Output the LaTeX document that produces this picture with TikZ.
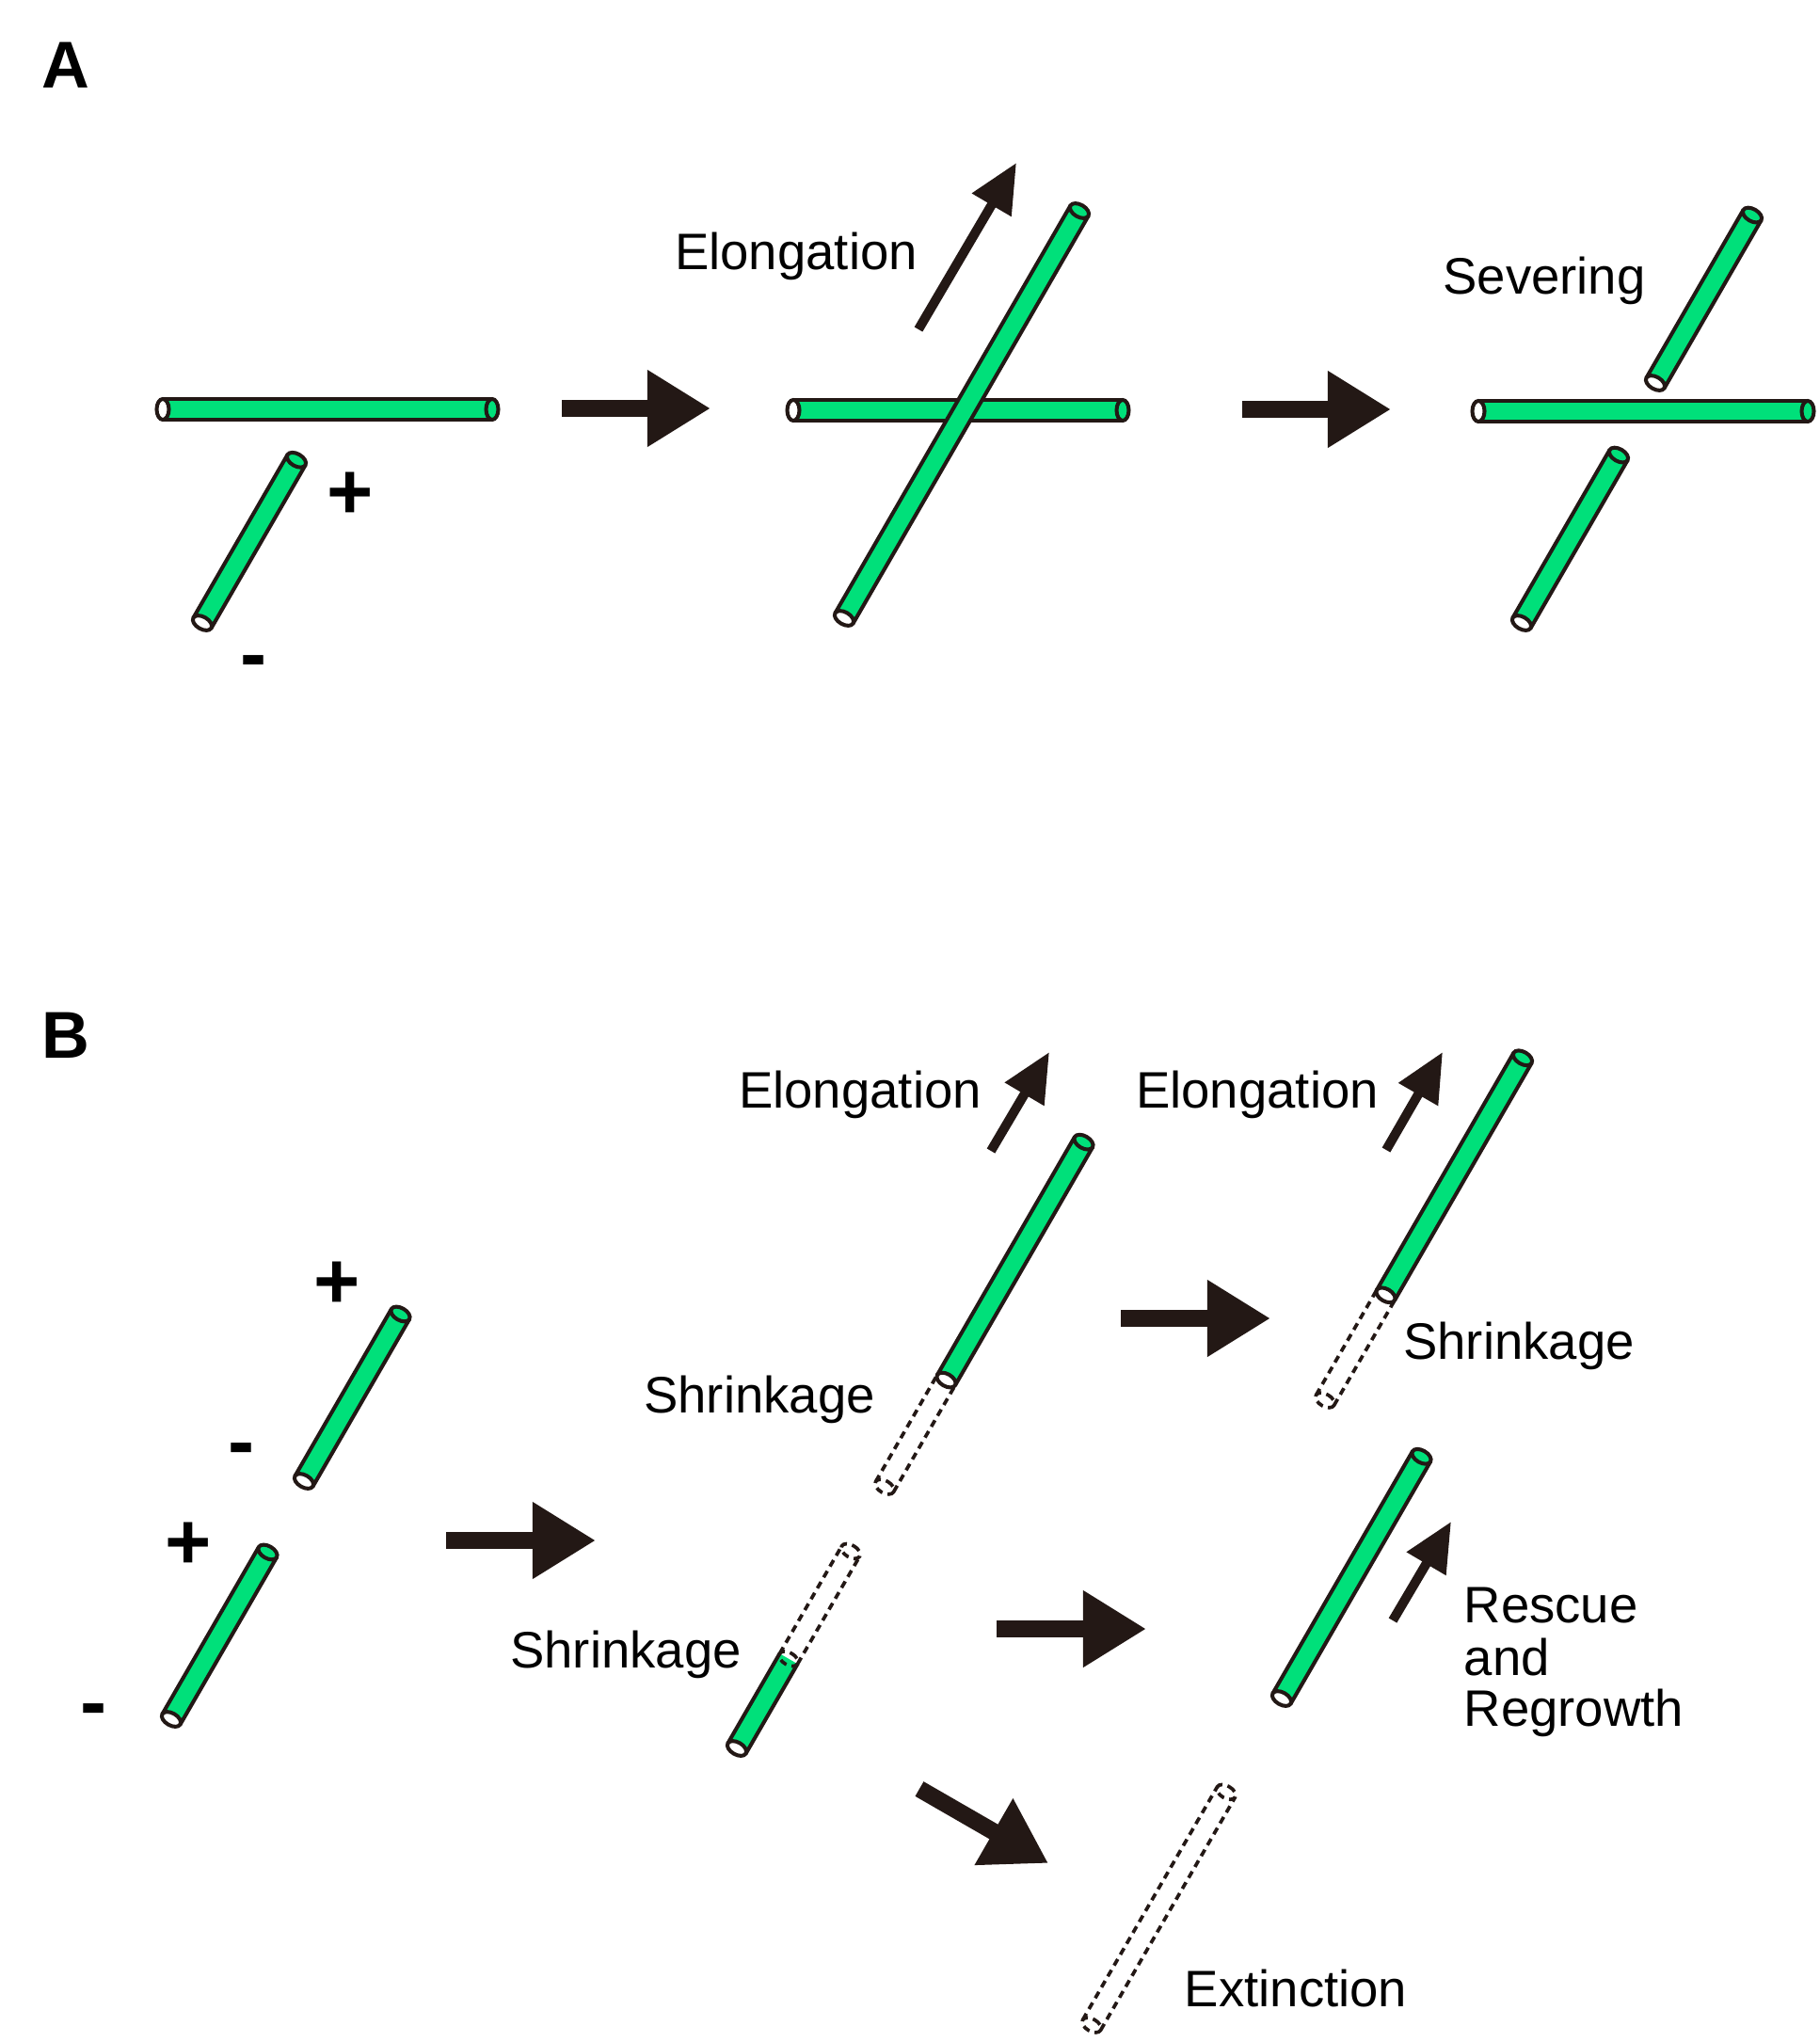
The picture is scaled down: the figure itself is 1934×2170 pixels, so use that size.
\documentclass[tikz,border=0pt]{standalone}
\usepackage{fontspec}
\setmainfont{Liberation Sans}
\usetikzlibrary{arrows.meta}
\definecolor{tubegreen}{RGB}{0,224,122}
\definecolor{ink}{RGB}{35,24,21}
\tikzset{
  tubeline/.style={draw=ink, line width=1.15pt},
  ghost/.style={draw=ink, line width=1.05pt, dash pattern=on 2.2pt off 1.6pt},
  bigarrow/.style={draw=ink, line width=0.18cm, -{Triangle[width=0.77cm,length=0.67cm]}},
  thinarrow/.style={draw=ink, line width=0.1cm, -{Triangle[width=0.46cm,length=0.52cm]}},
  lbl/.style={font=\fontsize{15.5pt}{18pt}\selectfont, inner sep=0, anchor=base, text=black},
  lblw/.style={lbl, anchor=base west},
  sign/.style={font=\fontsize{24pt}{28pt}\selectfont\bfseries, inner sep=0, text=black},
  panel/.style={font=\fontsize{20pt}{24pt}\selectfont\bfseries, inner sep=0, anchor=base west, text=black},
}
% full tube: x y angle length
\newcommand\mtube[4]{%
  \begin{scope}[shift={(#1,#2)}, rotate=#3]
    \fill[tubegreen] (0,-11) rectangle (#4,11);
    \draw[tubeline] (0,11) -- (#4,11) (0,-11) -- (#4,-11);
    \draw[tubeline, fill=tubegreen] (#4,0) ellipse [x radius=6.5, y radius=11];
    \draw[tubeline, fill=white] (0,0) ellipse [x radius=6.5, y radius=11];
  \end{scope}}
% dashed part at start: x y angle length dashedlength
\newcommand\ptube[5]{%
  \begin{scope}[shift={(#1,#2)}, rotate=#3]
    \draw[ghost] (0,11) -- (#5,11) (0,-11) -- (#5,-11) (0,0) ellipse [x radius=6.5, y radius=11];
    \fill[tubegreen] (#5,-11) rectangle (#4,11);
    \draw[tubeline] (#5,11) -- (#4,11) (#5,-11) -- (#4,-11);
    \draw[tubeline, fill=tubegreen] (#4,0) ellipse [x radius=6.5, y radius=11];
    \draw[tubeline, fill=white] (#5,0) ellipse [x radius=6.5, y radius=11];
  \end{scope}}
% green at start, dashed at end: x y angle length greenlength
\newcommand\qtube[5]{%
  \begin{scope}[shift={(#1,#2)}, rotate=#3]
    \fill[tubegreen] (0,-11) rectangle (#5,11);
    \draw[tubeline] (0,11) -- (#5,11) (0,-11) -- (#5,-11);
    \draw[ghost] (#5,11) -- (#4,11) (#5,-11) -- (#4,-11)
      (#4,0) ellipse [x radius=6.5, y radius=11] (#5,0) ellipse [x radius=6.5, y radius=11];
    \draw[tubeline, fill=white] (0,0) ellipse [x radius=6.5, y radius=11];
  \end{scope}}
% all dashed
\newcommand\gtube[4]{%
  \begin{scope}[shift={(#1,#2)}, rotate=#3]
    \draw[ghost] (0,11) -- (#4,11) (0,-11) -- (#4,-11)
      (0,0) ellipse [x radius=6.5, y radius=11] (#4,0) ellipse [x radius=6.5, y radius=11];
  \end{scope}}
\begin{document}
\begin{tikzpicture}[x=0.01cm, y=-0.01cm]
\fill[white] (0,0) rectangle (1934,2170);
\useasboundingbox (0,0) rectangle (1934,2170);

% ---------- Panel A ----------
\node[panel] (labA) at (44,94) {A};
\mtube{173}{435}{0}{350}
\mtube{215}{662}{60}{200}
\node[sign] (plusA) at (372,527) {+};
\node[sign] (minusA) at (270,710) {-};

\coordinate (a1s) at (597,434); \coordinate (a1e) at (755,434);
\draw[bigarrow] (a1s) -- (a1e);

\mtube{843}{436}{0}{350}
\mtube{897}{657}{60}{500}
\node[lbl] (elA) at (846,287) {Elongation};
\coordinate (tAs) at (976,350); \coordinate (tAe) at (1080,173);
\draw[thinarrow] (tAs) -- (tAe);

\coordinate (a2s) at (1320,435); \coordinate (a2e) at (1478,435);
\draw[bigarrow] (a2s) -- (a2e);

\mtube{1759}{407}{60}{206}
\mtube{1571}{437}{0}{350}
\mtube{1617}{662}{60}{206}
\node[lbl] (sev) at (1641,313) {Severing};

% ---------- Panel B ----------
\node[panel] (labB) at (44,1124) {B};
\mtube{323}{1574}{60}{205}
\mtube{182}{1827}{60}{205}
\node[sign] (plusB1) at (358,1366) {+};
\node[sign] (minusB1) at (257,1547) {-};
\node[sign] (plusB2) at (200,1643) {+};
\node[sign] (minusB2) at (100,1824) {-};

\coordinate (b1s) at (474,1637); \coordinate (b1e) at (633,1637);
\draw[bigarrow] (b1s) -- (b1e);

\ptube{940}{1580}{60}{423}{131}
\node[lbl] (elB1) at (914,1177) {Elongation};
\coordinate (tB1s) at (1053,1223); \coordinate (tB1e) at (1115,1118);
\draw[thinarrow] (tB1s) -- (tB1e);
\node[lbl] (shB1) at (807,1501) {Shrinkage};

\qtube{783}{1858}{60}{242}{110}
\node[lbl] (shB2) at (665,1772) {Shrinkage};

\coordinate (b2s) at (1191,1401); \coordinate (b2e) at (1350,1401);
\draw[bigarrow] (b2s) -- (b2e);
\coordinate (b3s) at (1059,1731); \coordinate (b3e) at (1218,1731);
\draw[bigarrow] (b3s) -- (b3e);
\coordinate (b4s) at (977,1901); \coordinate (b4e) at (1114,1980);
\draw[bigarrow] (b4s) -- (b4e);

\ptube{1408}{1488}{60}{420}{129}
\node[lbl] (elB2) at (1336,1177) {Elongation};
\coordinate (tB2s) at (1473,1222); \coordinate (tB2e) at (1533,1118);
\draw[thinarrow] (tB2s) -- (tB2e);
\node[lbl] (shB3) at (1614,1444) {Shrinkage};

\mtube{1362}{1805}{60}{297}
\coordinate (tRs) at (1480,1722); \coordinate (tRe) at (1542,1617);
\draw[thinarrow] (tRs) -- (tRe);
\node[lblw] (res1) at (1555,1724) {Rescue};
\node[lblw] (res2) at (1555,1780) {and};
\node[lblw] (res3) at (1555,1834) {Regrowth};

\gtube{1160}{2152}{60}{286}
\node[lbl] (ext) at (1377,2132) {Extinction};
\end{tikzpicture}
\end{document}
